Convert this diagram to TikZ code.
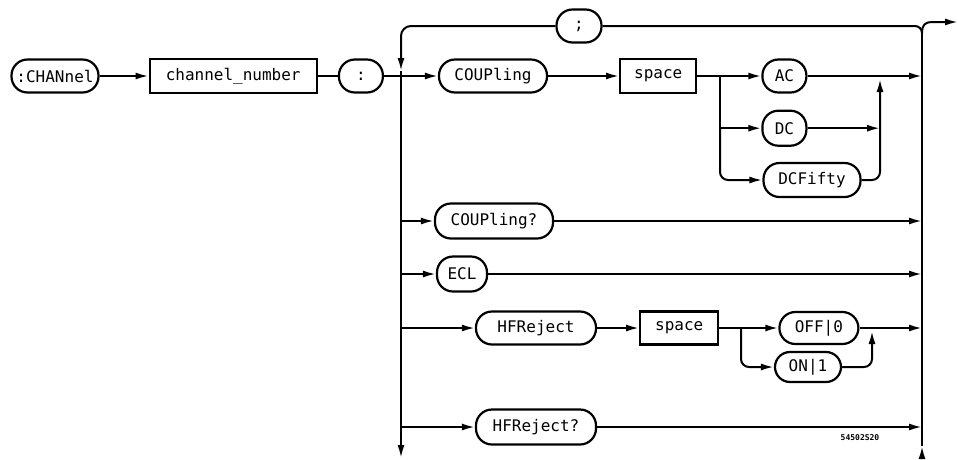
\documentclass[tikz,border=0pt]{standalone}
\usepackage{fontspec}
\setmonofont{DejaVu Sans Mono}
\usetikzlibrary{arrows.meta,positioning,calc}

\begin{document}
\begin{tikzpicture}
  [x=1pt,y=-1pt,line width=2pt,
  kw/.style={rectangle,rounded corners=16pt,draw,line width=2.2pt,inner xsep=4pt,minimum height=33pt,font=\ttfamily\fontsize{16}{18}\selectfont},
  param/.style={rectangle,draw,line width=2.2pt,inner xsep=4pt,minimum height=34pt,font=\ttfamily\fontsize{16}{18}\selectfont},
  arr/.style={-{Latex[length=13pt,width=7pt]}},
  figno/.style={font=\ttfamily\bfseries\fontsize{8}{9}\selectfont}]

\useasboundingbox (0,0) rectangle (958,459);

% header
\node[kw,minimum width=87pt] (chan) at (55,76) {:CHANnel};
\node[param,minimum width=167pt] (num) [right=49pt of chan] {channel\_number};
\node[kw,minimum width=44pt,rounded corners=16pt] (colon) [right=20pt of num] {:};

\draw [arr] (chan) -- (num);
\draw (num) -- (colon);

% loop frame
\coordinate (lv) at (401,0);
\coordinate (rv) at (922,0);
\coordinate (lvtop) at (401,71);
\coordinate (lvbot) at (401,458);
\coordinate (rvtop) at (922,33);
\coordinate (rvarr) at (922,446);
\coordinate (rvbot) at (922,459);
\coordinate (exit) at (958,22);

\node[kw,minimum width=45pt,rounded corners=16pt] (semi) at (579,26) {;};

\draw (colon) -- (colon -| lv);
\draw [arr,rounded corners=10pt] (semi) -| (lvtop);
\draw [rounded corners=7pt] (rvtop) |- (semi);
\draw [arr] (rvtop) .. controls (922,25) and (925,22) .. (932,22) -- (exit);
\draw [arr] (lvtop) -- (lvbot);
\draw (rvarr) -- (rvtop);
\draw [arr] (rvbot) -- (rvarr);

% coupling
\node[kw,minimum width=108pt] (coup) at (493,76) {COUPling};
\node[param,minimum width=76pt] (sp1) [right=71pt of coup] {space};
\node[kw,minimum width=44pt] (ac) [right=64pt of sp1] {AC};
\node[kw,minimum width=44pt,minimum height=35pt] (dc) [below=16pt of ac] {DC};
\node[kw,minimum width=97pt,minimum height=34pt] (dcf) at (812,180) {DCFifty};
\coordinate (b1) at (720,76);
\coordinate (j1) at (880,76);

\draw [arr] (coup -| lv) -- (coup);
\draw [arr] (coup) -- (sp1);
\draw (sp1) -- (b1);
\draw [arr] (b1) -- (ac);
\draw (b1) -- (b1 |- dc);
\draw [arr] (b1 |- dc) -- (dc);
\draw [arr,rounded corners=8pt] (b1 |- dc) |- (dcf);
\draw [arr] (ac) -- (ac -| rv);
\draw [arr] (dc) -- (dc -| j1);
\draw [arr,rounded corners=8pt] (dcf) -| ($(j1)+(0,3)$);

% queries
\node[kw,minimum width=118pt,minimum height=35pt] (coupq) at (494,221) {COUPling?};
\node[kw,minimum width=50pt,minimum height=35pt] (ecl) at (462,274) {ECL};

\draw [arr] (coupq -| lv) -- (coupq);
\draw [arr] (coupq) -- (coupq -| rv);
\draw [arr] (ecl -| lv) -- (ecl);
\draw [arr] (ecl) -- (ecl -| rv);

% hf reject
\node[kw,minimum width=120pt] (hfr) at (536,328) {HFReject};
\node[param,minimum width=78pt,minimum height=33pt] (sp2) [right=42pt of hfr] {space};
\node[kw,minimum width=79pt,minimum height=32pt] (off) [right=59pt of sp2] {OFF|0};
\node[kw,minimum width=66pt,minimum height=30pt,rounded corners=15pt] (on) at (808,367) {ON|1};
\node[kw,minimum width=120pt,minimum height=35pt] (hfrq) at (536,427) {HFReject?};
\coordinate (b2) at (741,328);
\coordinate (j2) at (872,328);

\draw [arr] (hfr -| lv) -- (hfr);
\draw [arr] (hfr) -- (sp2);
\draw (sp2) -- (b2);
\draw [arr] (b2) -- (off);
\draw [arr,rounded corners=8pt] (b2) |- (on);
\draw [arr,rounded corners=8pt] (on) -| ($(j2)+(0,3)$);
\draw [arr] (off) -- (off -| rv);
\draw [arr] (hfrq -| lv) -- (hfrq);
\draw [arr] (hfrq) -- (hfrq -| rv);

\node[figno] (fig) at (860,438) {54502S20};

\end{tikzpicture}
\end{document}
